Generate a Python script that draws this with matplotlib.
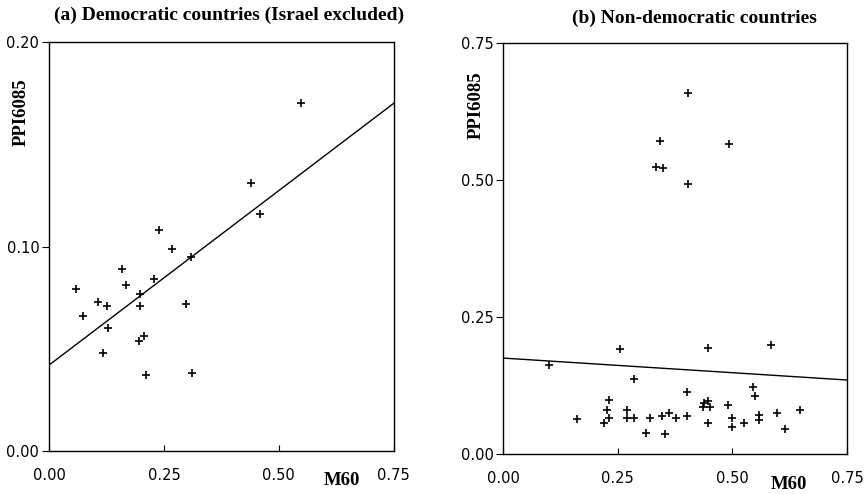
import matplotlib
matplotlib.use("Agg")
import matplotlib.pyplot as plt

# (a) democratic countries, Israel excluded
m60_dem = [0.549, 0.439, 0.459, 0.239, 0.268, 0.308, 0.158, 0.059, 0.167, 0.228, 0.198,
           0.107, 0.127, 0.198, 0.299, 0.074, 0.128, 0.207, 0.196, 0.118, 0.212, 0.312]
ppi_dem = [0.170, 0.131, 0.116, 0.108, 0.099, 0.095, 0.089, 0.079, 0.081, 0.084, 0.077,
           0.073, 0.071, 0.071, 0.072, 0.066, 0.060, 0.056, 0.054, 0.048, 0.037, 0.038]
fit_dem = [0.042, 0.170]   # fitted line at M60 = 0 and 0.75

# (b) non-democratic countries
m60_non = [0.403, 0.343, 0.492, 0.333, 0.349, 0.403,
           0.100, 0.256, 0.446, 0.584, 0.285, 0.402, 0.545, 0.550,
           0.161, 0.232, 0.226, 0.232, 0.221, 0.271, 0.271, 0.285, 0.320, 0.312,
           0.346, 0.353, 0.362, 0.377, 0.402, 0.438, 0.447, 0.436, 0.452, 0.447,
           0.491, 0.500, 0.500, 0.525, 0.558, 0.558, 0.598, 0.614, 0.648]
ppi_non = [0.659, 0.572, 0.566, 0.523, 0.521, 0.492,
           0.162, 0.191, 0.193, 0.199, 0.136, 0.114, 0.123, 0.106,
           0.063, 0.098, 0.080, 0.066, 0.056, 0.081, 0.066, 0.066, 0.065, 0.039,
           0.069, 0.036, 0.074, 0.066, 0.069, 0.093, 0.097, 0.086, 0.085, 0.057,
           0.089, 0.065, 0.050, 0.056, 0.072, 0.062, 0.075, 0.045, 0.080]
fit_non = [0.175, 0.135]

fit_x = [0.0, 0.75]

serif = "Liberation Serif"

fig = plt.figure(figsize=(8.66, 4.94), dpi=100)
ax_a = fig.add_axes([0.0566, 0.087, 0.398, 0.828])
ax_b = fig.add_axes([0.581, 0.081, 0.397, 0.832])

panels = [
    (ax_a, m60_dem, ppi_dem, fit_dem, [0.0, 0.10, 0.20], ["0.00", "0.10", "0.20"], 0.20),
    (ax_b, m60_non, ppi_non, fit_non, [0.0, 0.25, 0.50, 0.75], ["0.00", "0.25", "0.50", "0.75"], 0.75),
]

for ax, xs, ys, fit, yticks, ylabels, ymax in panels:
    ax.plot(xs, ys, "+", color="black", markersize=5.5, markeredgewidth=1.2)
    ax.plot(fit_x, fit, "-", color="black", linewidth=1.0)
    ax.set_xlim(0, 0.75)
    ax.set_ylim(0, ymax)
    ax.set_xticks([0.0, 0.25, 0.50, 0.75])
    ax.set_xticklabels(["0.00", "0.25", "0.50", "0.75"])
    ax.set_yticks(yticks)
    ax.set_yticklabels(ylabels)
    ax.tick_params(axis="x", direction="in", length=4, pad=12, labelsize=10.5)
    ax.tick_params(axis="y", direction="out", length=5, pad=2, labelsize=10.5)
    for s in ax.spines.values():
        s.set_linewidth(1.0)
    ax.set_ylabel("PPI6085", fontfamily=serif, fontweight="bold", fontsize=13.5)
    ax.set_xlabel("M60", fontfamily=serif, fontweight="bold", fontsize=13.5)

ax_a.yaxis.set_label_coords(-0.081, 0.829)
ax_a.xaxis.set_label_coords(0.849, -0.073)
ax_b.yaxis.set_label_coords(-0.078, 0.849)
ax_b.xaxis.set_label_coords(0.831, -0.075)
for ax in (ax_a, ax_b):
    ax.yaxis.label.set_va("center")
    ax.xaxis.label.set_va("center")

fig.text(229 / 866, 1 - 15 / 494, "(a) Democratic countries (Israel excluded)",
         ha="center", va="center", fontfamily=serif, fontweight="bold", fontsize=14)
fig.text(694 / 866, 1 - 18 / 494, "(b) Non-democratic countries",
         ha="center", va="center", fontfamily=serif, fontweight="bold", fontsize=14)

fig.savefig("out.png", dpi=100)
